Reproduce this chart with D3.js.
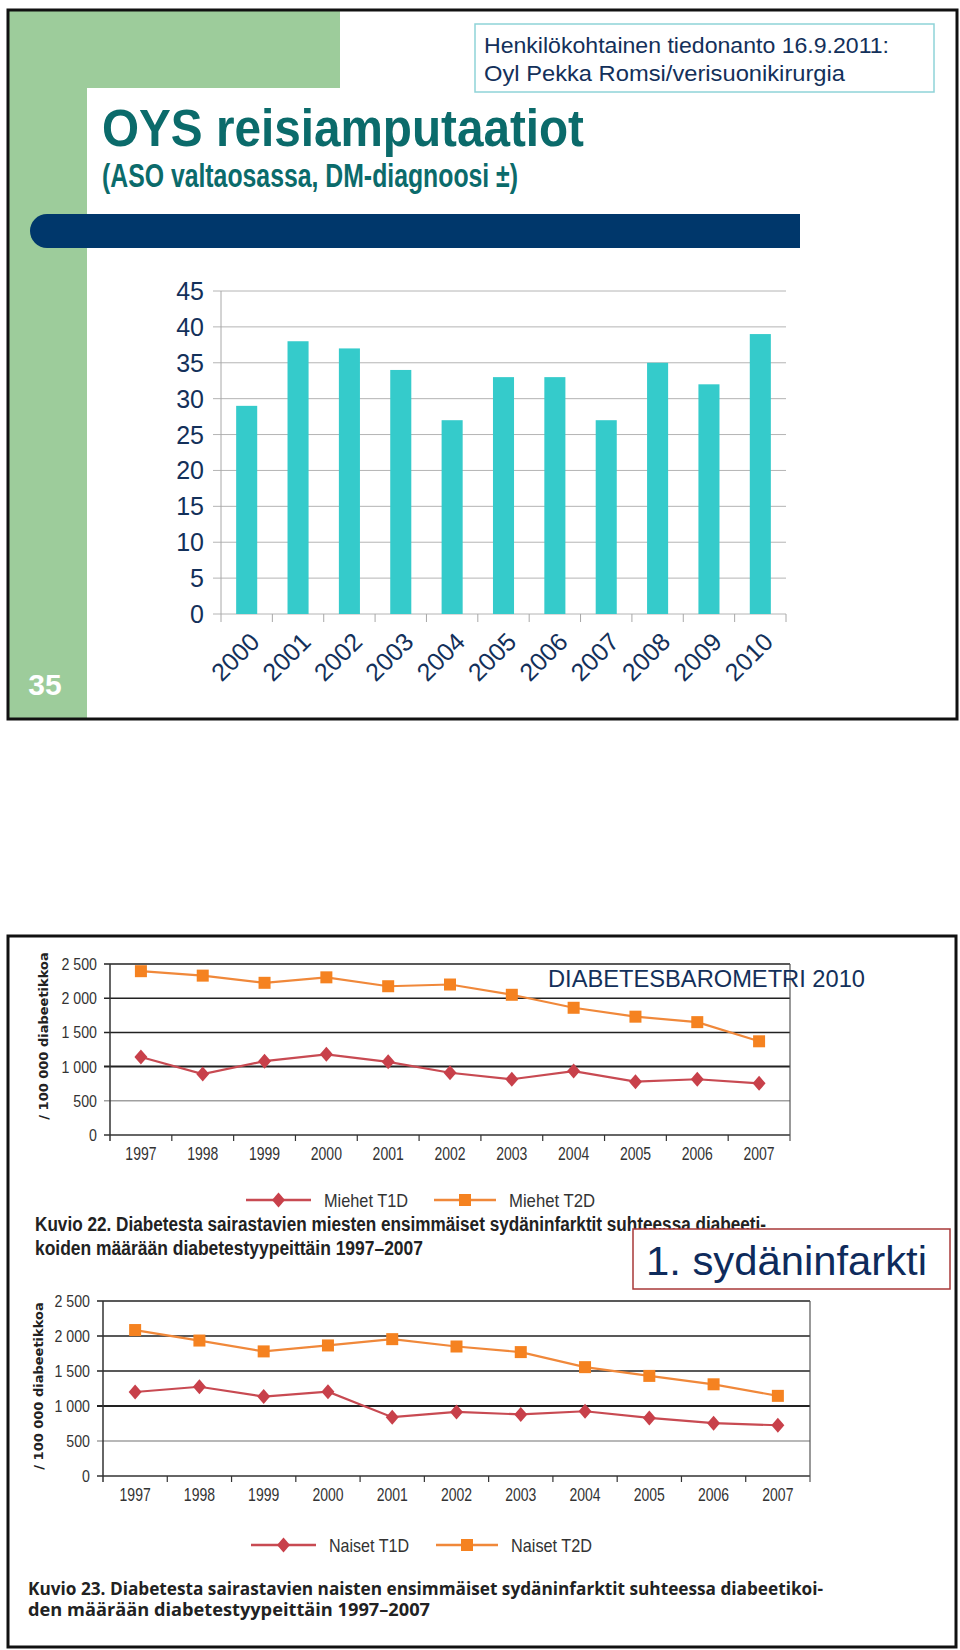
<!DOCTYPE html>
<html><head><meta charset="utf-8">
<script src="https://cdn.jsdelivr.net/npm/d3@7"></script>
<style>body{margin:0;background:#fff} svg{display:block}</style>
</head><body><svg id="c" width="960" height="1650"></svg>
<script>
// ---------- DATA ----------
const ampYears = ["2000","2001","2002","2003","2004","2005","2006","2007","2008","2009","2010"];
const ampValues = [29,38,37,34,27,33,33,27,35,32,39];
const ampTicks = [0,5,10,15,20,25,30,35,40,45];

const miYears = ["1997","1998","1999","2000","2001","2002","2003","2004","2005","2006","2007"];
const menT1D = [1140,890,1080,1180,1070,910,815,935,780,815,755];
const menT2D = [2395,2330,2225,2305,2175,2200,2050,1860,1730,1650,1370];
const womenT1D = [1200,1275,1135,1205,840,915,880,925,830,755,725];
const womenT2D = [2085,1935,1780,1865,1955,1850,1770,1555,1430,1310,1145];
const miTicks = [0,500,1000,1500,2000,2500];
const miTickLabels = ["0","500","1 000","1 500","2 000","2 500"];

// ---------- STYLE ----------
const ARIAL = "'Liberation Sans', Arial, sans-serif";
const NARROW = "'Liberation Sans Narrow', 'Liberation Sans', sans-serif";
const GREEN = "#9dcc9b", NAVY = "#13305a", TEAL = "#0b6b6b";
const ORANGE_L = "#f0883a", ORANGE_M = "#f58220", RED_L = "#c84a52", RED_M = "#c8404a";

const svg = d3.select("#c");

// ================= SLIDE 1 =================
const s1 = svg.append("g");
s1.append("rect").attr("x",8).attr("y",10).attr("width",332).attr("height",78).attr("fill",GREEN);
s1.append("rect").attr("x",8).attr("y",10).attr("width",79).attr("height",709).attr("fill",GREEN);
s1.append("rect").attr("x",87).attr("y",88).attr("width",900).attr("height",700).attr("rx",24).attr("fill","#fff");
s1.append("rect").attr("x",8).attr("y",719).attr("width",960).attr("height",100).attr("fill","#fff");

// info box
s1.append("rect").attr("x",475).attr("y",24).attr("width",459).attr("height",68)
  .attr("fill","#fff").attr("stroke","#8fd3d8").attr("stroke-width",1.5);
s1.append("text").attr("x",484).attr("y",53).attr("font-family",ARIAL).attr("font-size",22)
  .attr("fill",NAVY).attr("textLength",405).attr("lengthAdjust","spacingAndGlyphs")
  .text("Henkilökohtainen tiedonanto 16.9.2011:");
s1.append("text").attr("x",484).attr("y",81).attr("font-family",ARIAL).attr("font-size",22)
  .attr("fill",NAVY).attr("textLength",361).attr("lengthAdjust","spacingAndGlyphs")
  .text("Oyl Pekka Romsi/verisuonikirurgia");

// title
s1.append("text").attr("x",102).attr("y",146).attr("font-family",ARIAL).attr("font-weight","bold")
  .attr("font-size",51).attr("fill",TEAL).attr("textLength",482).attr("lengthAdjust","spacingAndGlyphs")
  .text("OYS reisiamputaatiot");
s1.append("text").attr("x",102).attr("y",187).attr("font-family",ARIAL).attr("font-weight","bold")
  .attr("font-size",34).attr("fill",TEAL).attr("textLength",416).attr("lengthAdjust","spacingAndGlyphs")
  .text("(ASO valtaosassa, DM-diagnoosi ±)");

// blue bar
s1.append("path").attr("d","M47,214 H800 V248 H47 A17,17 0 0 1 47,214 Z").attr("fill","#00376b");

// bar chart
const xb = d3.scaleBand().domain(ampYears).range([221,786]).paddingInner(0.59).paddingOuter(0.295);
const yb = d3.scaleLinear().domain([0,45]).range([614,291]);
const gb = s1.append("g");
gb.selectAll("line.grid").data(ampTicks).join("line").attr("class","grid")
  .attr("x1",213).attr("x2",786).attr("y1",d=>yb(d)).attr("y2",d=>yb(d))
  .attr("stroke","#b4b4b4").attr("stroke-width",1);
gb.append("line").attr("x1",221).attr("x2",221).attr("y1",yb(45)).attr("y2",yb(0)).attr("stroke","#a8a8a8");
const bounds = ampYears.map(d=>xb(d)-xb.step()*xb.paddingInner()/2).concat([786]);
gb.selectAll("line.xt").data(bounds).join("line").attr("class","xt")
  .attr("x1",d=>d).attr("x2",d=>d).attr("y1",614).attr("y2",622).attr("stroke","#a8a8a8");
gb.selectAll("rect.bar").data(ampValues).join("rect").attr("class","bar")
  .attr("x",(d,i)=>xb(ampYears[i])).attr("width",xb.bandwidth())
  .attr("y",d=>yb(d)).attr("height",d=>yb(0)-yb(d)).attr("fill","#35cbcb");
gb.selectAll("text.yl").data(ampTicks).join("text").attr("class","yl")
  .attr("x",204).attr("y",d=>yb(d)).attr("dy","0.36em").attr("text-anchor","end")
  .attr("font-family",ARIAL).attr("font-size",25).attr("fill",NAVY).text(d=>d);
gb.selectAll("text.xl").data(ampYears).join("text").attr("class","xl")
  .attr("transform",d=>`translate(${xb(d)+xb.bandwidth()/2+8},${637}) rotate(-45)`)
  .attr("dy","0.36em").attr("text-anchor","end")
  .attr("font-family",ARIAL).attr("font-size",25).attr("fill",NAVY).text(d=>d);

// slide number
s1.append("text").attr("x",45).attr("y",695).attr("text-anchor","middle").attr("font-family",ARIAL)
  .attr("font-weight","bold").attr("font-size",30).attr("fill","#fff").text("35");

// border
s1.append("rect").attr("x",8).attr("y",10).attr("width",949).attr("height",709)
  .attr("fill","none").attr("stroke","#111").attr("stroke-width",3);

// ================= SLIDE 2 =================
const s2 = svg.append("g");

function lineChart(cfg){
  const g = s2.append("g");
  const x = d3.scaleBand().domain(miYears).range([cfg.x0,cfg.x1]);
  const y = d3.scaleLinear().domain([0,2500]).range([cfg.y0,cfg.y1]);
  const cx = d => x(d)+x.bandwidth()/2;
  g.selectAll("line.grid").data(miTicks.slice(1)).join("line").attr("class","grid")
    .attr("x1",cfg.x0-6).attr("x2",cfg.x1).attr("y1",d=>y(d)).attr("y2",d=>y(d))
    .attr("stroke",d=>d===500?"#a0a0a0":"#222").attr("stroke-width",d=>d===1000?2:1.5);
  g.append("line").attr("x1",cfg.x0-6).attr("x2",cfg.x1).attr("y1",y(0)).attr("y2",y(0)).attr("stroke","#333").attr("stroke-width",1.5);
  g.append("line").attr("x1",cfg.x0).attr("x2",cfg.x0).attr("y1",y(2500)).attr("y2",y(0)+6).attr("stroke","#333").attr("stroke-width",1.5);
  g.append("line").attr("x1",cfg.x1).attr("x2",cfg.x1).attr("y1",y(2500)).attr("y2",y(0)+6).attr("stroke","#555").attr("stroke-width",1.2);
  g.selectAll("line.xt").data(miYears.slice(1)).join("line").attr("class","xt")
    .attr("x1",d=>x(d)).attr("x2",d=>x(d)).attr("y1",y(0)).attr("y2",y(0)+6).attr("stroke","#333").attr("stroke-width",1.2);
  g.selectAll("text.yl").data(miTicks).join("text").attr("class","yl")
    .attr("transform",d=>`translate(${cfg.x0-13},${y(d)}) scale(0.86,1)`)
    .attr("dy","0.36em").attr("text-anchor","end")
    .attr("font-family",NARROW).attr("font-size",16.5).attr("fill","#333")
    .text((d,i)=>miTickLabels[i]);
  g.selectAll("text.xl").data(miYears).join("text").attr("class","xl")
    .attr("transform",d=>`translate(${cx(d)},${cfg.xlab}) scale(0.8,1)`).attr("text-anchor","middle")
    .attr("font-family",NARROW).attr("font-size",17.5).attr("fill","#333").text(d=>d);
  g.append("text").attr("transform",`translate(${cfg.ytx},${cfg.yty}) rotate(-90)`)
    .attr("text-anchor","middle").attr("font-family","'DejaVu Sans', Verdana, sans-serif")
    .attr("font-weight","bold").attr("font-size",13).attr("fill","#222").text("/ 100 000 diabeetikkoa");
  const ln = d3.line().x((d,i)=>cx(miYears[i])).y(d=>y(d));
  g.append("path").attr("d",ln(cfg.t2)).attr("fill","none").attr("stroke",ORANGE_L).attr("stroke-width",2.2);
  g.append("path").attr("d",ln(cfg.t1)).attr("fill","none").attr("stroke",RED_L).attr("stroke-width",2.2);
  g.selectAll("rect.sq").data(cfg.t2).join("rect").attr("class","sq")
    .attr("x",(d,i)=>cx(miYears[i])-6).attr("y",d=>y(d)-6).attr("width",12).attr("height",12).attr("fill",ORANGE_M);
  g.selectAll("path.dm").data(cfg.t1).join("path").attr("class","dm")
    .attr("transform",(d,i)=>`translate(${cx(miYears[i])},${y(d)})`)
    .attr("d","M0,-7.5 L6.5,0 L0,7.5 L-6.5,0 Z").attr("fill",RED_M);
  const L = cfg.leg;
  g.append("line").attr("x1",L.r0).attr("x2",L.r1).attr("y1",L.y).attr("y2",L.y).attr("stroke",RED_L).attr("stroke-width",2.5);
  g.append("path").attr("transform",`translate(${(L.r0+L.r1)/2},${L.y})`).attr("d","M0,-7.5 L6.5,0 L0,7.5 L-6.5,0 Z").attr("fill",RED_M);
  g.append("text").attr("x",L.r1+13).attr("y",L.y).attr("dy","0.36em").attr("font-family",NARROW)
    .attr("font-size",19).attr("fill","#333").attr("textLength",L.w1).attr("lengthAdjust","spacingAndGlyphs").text(L.n1);
  g.append("line").attr("x1",L.o0).attr("x2",L.o1).attr("y1",L.y).attr("y2",L.y).attr("stroke",ORANGE_L).attr("stroke-width",2.5);
  g.append("rect").attr("x",(L.o0+L.o1)/2-6).attr("y",L.y-6).attr("width",12).attr("height",12).attr("fill",ORANGE_M);
  g.append("text").attr("x",L.o1+13).attr("y",L.y).attr("dy","0.36em").attr("font-family",NARROW)
    .attr("font-size",19).attr("fill","#333").attr("textLength",L.w2).attr("lengthAdjust","spacingAndGlyphs").text(L.n2);
  return g;
}

lineChart({x0:110,x1:790,y0:1135,y1:964,xlab:1160,ytx:48,yty:1036,t1:menT1D,t2:menT2D,
  leg:{y:1200,r0:246,r1:311,o0:434,o1:496,n1:"Miehet T1D",n2:"Miehet T2D",w1:84,w2:86}});
lineChart({x0:103,x1:810,y0:1476,y1:1301,xlab:1501,ytx:43,yty:1386,t1:womenT1D,t2:womenT2D,
  leg:{y:1545,r0:251,r1:316,o0:436,o1:498,n1:"Naiset T1D",n2:"Naiset T2D",w1:80,w2:81}});

// captions
function cap(x,y,txt,len,font,size,weight){
  s2.append("text").attr("x",x).attr("y",y).attr("font-family",font).attr("font-weight",weight)
    .attr("font-size",size).attr("fill","#222").attr("textLength",len).attr("lengthAdjust","spacingAndGlyphs").text(txt);
}
cap(35,1231,"Kuvio 22. Diabetesta sairastavien miesten ensimmäiset sydäninfarktit suhteessa diabeeti-",731,NARROW,19.5,"bold");
cap(35,1255,"koiden määrään diabetestyypeittäin 1997–2007",388,NARROW,19.5,"bold");
cap(28,1595,"Kuvio 23. Diabetesta sairastavien naisten ensimmäiset sydäninfarktit suhteessa diabeetikoi-",795,"'Open Sans', sans-serif",18,700);
cap(28,1616,"den määrään diabetestyypeittäin 1997–2007",402,"'Open Sans', sans-serif",18,700);

// overlay texts
s2.append("text").attr("x",548).attr("y",987).attr("font-family",ARIAL).attr("font-size",24)
  .attr("fill",NAVY).attr("textLength",317).attr("lengthAdjust","spacingAndGlyphs").text("DIABETESBAROMETRI 2010");
s2.append("rect").attr("x",633).attr("y",1229).attr("width",317).attr("height",60)
  .attr("fill","#fff").attr("stroke","#a83838").attr("stroke-width",1.5);
s2.append("text").attr("x",646).attr("y",1275).attr("font-family",ARIAL).attr("font-size",40)
  .attr("fill","#0e2b5c").attr("textLength",281).attr("lengthAdjust","spacingAndGlyphs").text("1. sydäninfarkti");

// border
s2.append("rect").attr("x",8).attr("y",936).attr("width",948).attr("height",711)
  .attr("fill","none").attr("stroke","#111").attr("stroke-width",3);
</script></body></html>
